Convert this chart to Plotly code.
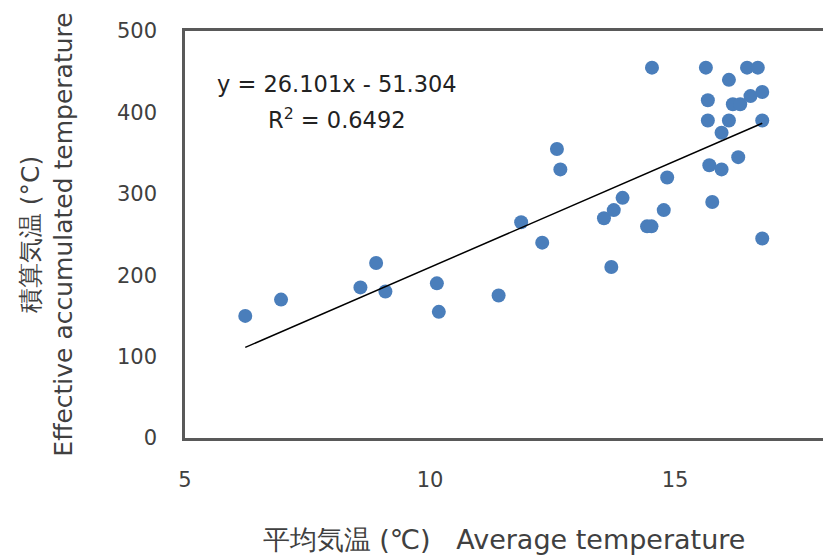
import plotly.graph_objects as go

# Data
avg_temp = [6.23, 6.96, 8.58, 8.90, 9.09, 10.14, 10.18, 11.40, 11.86, 12.29,
            12.59, 12.66, 13.55, 13.75, 13.70, 13.93, 14.43, 14.52, 14.53, 14.77,
            14.84, 15.63, 15.67, 15.67, 15.70, 15.76, 15.95, 15.95, 16.10, 16.10,
            16.18, 16.29, 16.33, 16.47, 16.54, 16.69, 16.78, 16.78, 16.78]
acc_temp = [150, 170, 185, 215, 180, 190, 155, 175, 265, 240,
            355, 330, 270, 280, 210, 295, 260, 260, 455, 280,
            320, 455, 415, 390, 335, 290, 375, 330, 440, 390,
            410, 345, 410, 455, 420, 455, 425, 390, 245]
slope = 26.101
intercept = -51.304
r_squared = 0.6492
x_ticks = [5, 10, 15]
y_ticks = [0, 100, 200, 300, 400, 500]

FONT = "DejaVu Sans"
TXT = "#404040"

x_line = [min(avg_temp), max(avg_temp)]
y_line = [slope * v + intercept for v in x_line]

fig = go.Figure()
fig.add_trace(go.Scatter(x=avg_temp, y=acc_temp, mode="markers",
                         marker=dict(size=14, color="#4a7ebb"), showlegend=False))
fig.add_trace(go.Scatter(x=x_line, y=y_line, mode="lines",
                         line=dict(color="black", width=1.5), showlegend=False))

fig.add_annotation(x=0.238, y=0.87, xref="paper", yref="paper", xanchor="center",
                   yanchor="middle",
                   text=f"y = {slope}x - {abs(intercept)}", showarrow=False,
                   font=dict(family=FONT, size=22.5, color="#222222"))
fig.add_annotation(x=0.238, y=0.786, xref="paper", yref="paper", xanchor="center",
                   yanchor="middle",
                   text=f"R<sup>2</sup> = {r_squared}", showarrow=False,
                   font=dict(family=FONT, size=22.5, color="#222222"))

fig.update_layout(
    width=823, height=560,
    margin=dict(l=185, r=0, t=31, b=122),
    paper_bgcolor="white", plot_bgcolor="white",
    font=dict(family=FONT, color=TXT),
    xaxis=dict(range=[5, 18.02], tickvals=x_ticks, showgrid=False, zeroline=False,
               showline=True, linecolor="#595959", linewidth=2.5, mirror=True,
               ticks="", ticklabelstandoff=21, tickfont=dict(size=21, color=TXT),
               title=dict(text="平均気温 (℃)   Average temperature",
                          font=dict(size=27, color=TXT), standoff=40)),
    yaxis=dict(range=[0, 500], tickvals=y_ticks, showgrid=False, zeroline=False,
               showline=True, linecolor="#595959", linewidth=2.5, mirror=False,
               ticks="", ticklabelstandoff=21, tickfont=dict(size=21, color=TXT),
               title=dict(text="積算気温 (°C)<br>Effective accumulated temperature",
                          font=dict(size=25, color=TXT), standoff=38)),
)

post = ("document.body.style.margin='0';document.body.style.overflow='hidden';"
        "Plotly.relayout('{plot_id}', {width: 823, height: 560});")
fig.write_html("out.html", config={"responsive": False, "displayModeBar": False},
               post_script=post)
